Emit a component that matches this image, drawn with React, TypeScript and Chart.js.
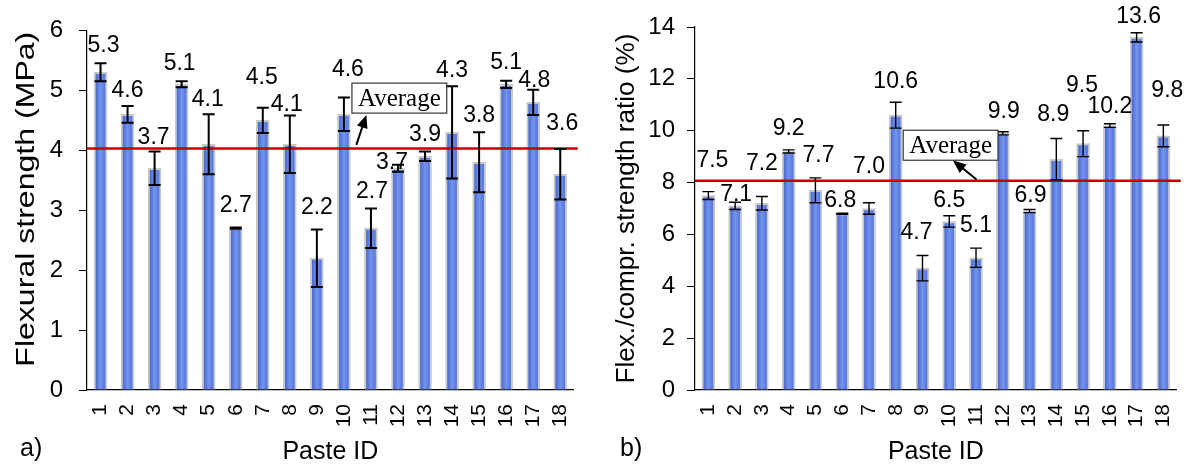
import React, { useEffect, useRef } from 'react';
import { Chart, registerables } from 'chart.js';

Chart.register(...registerables);

// ---- data ----
const PASTE_IDS = ['1', '2', '3', '4', '5', '6', '7', '8', '9', '10', '11', '12', '13', '14', '15', '16', '17', '18'];

// a) flexural strength (MPa) with standard deviations
const FLEX_STRENGTH = [5.3, 4.6, 3.7, 5.1, 4.1, 2.7, 4.5, 4.1, 2.2, 4.6, 2.7, 3.7, 3.9, 4.3, 3.8, 5.1, 4.8, 3.6];
const FLEX_STRENGTH_SD = [0.15, 0.14, 0.28, 0.05, 0.5, 0.01, 0.21, 0.48, 0.48, 0.28, 0.33, 0.06, 0.08, 0.77, 0.5, 0.06, 0.21, 0.42];
const FLEX_STRENGTH_AVG = 4.03;
const FLEX_TICKS = [0, 1, 2, 3, 4, 5, 6];

// b) flexural / compressive strength ratio (%) with standard deviations
const RATIO = [7.5, 7.1, 7.2, 9.2, 7.7, 6.8, 7.0, 10.6, 4.7, 6.5, 5.1, 9.9, 6.9, 8.9, 9.5, 10.2, 13.6, 9.8];
const RATIO_SD = [0.15, 0.14, 0.26, 0.06, 0.48, 0.02, 0.22, 0.5, 0.49, 0.22, 0.37, 0.06, 0.06, 0.8, 0.5, 0.07, 0.18, 0.42];
const RATIO_AVG = 8.07;
const RATIO_TICKS = [0, 2, 4, 6, 8, 10, 12, 14];

// hand-placed data-label nudges (px): lift above the error cap, sideways shift
const FLEX_LABEL_LIFT = [11, 9, 7, 11, 8, 16, 24, 5, 15, 22, 10, -4, 10, 9, 10, 12, 3, 19];
const FLEX_LABEL_DX = [3, 0, -1, -2, -1, 0, -1, -3, 0, 4, 1, -6, 0, 0, 0, 0, 1, 2];
const RATIO_LABEL_LIFT = [25, 1, 27, 15, 16, 6, 30, 14, 16, 9, 16, 14, 8, 17, 39, 11, 10, 28];
const RATIO_LABEL_DX = [4, 1, 0, 0, 3, -2, 0, 0, -6, 0, 0, 1, 1, -3, -1, 0, 2, 4];

const SANS = '"Liberation Sans", Arial, sans-serif';
const SERIF = '"Liberation Serif", "Times New Roman", serif';

type PanelConfig = {
  width: number;
  tag: string;
  yTitle: string;
  yTitleLength: number;
  yTitleShift: number;
  values: number[];
  sd: number[];
  labelLift: number[];
  labelDx: number[];
  average: number;
  ticks: number[];
  yAxisWidth: number;
  rightPad: number;
  tickPad: number;
  errWidth: number;
  // annotation box centre and arrow, in category index / value units
  boxAt: [number, number];
  arrowFrom: [number, number];
  arrowTo: [number, number];
};

const PANELS: PanelConfig[] = [
  {
    width: 600,
    tag: 'a)',
    yTitle: 'Flexural strength (MPa)',
    yTitleLength: 335,
    yTitleShift: -11,
    values: FLEX_STRENGTH,
    sd: FLEX_STRENGTH_SD,
    labelLift: FLEX_LABEL_LIFT,
    labelDx: FLEX_LABEL_DX,
    average: FLEX_STRENGTH_AVG,
    ticks: FLEX_TICKS,
    yAxisWidth: 87,
    rightPad: 20,
    tickPad: 16,
    errWidth: 2,
    boxAt: [11.05, 4.87],
    arrowFrom: [9.46, 4.09],
    arrowTo: [9.83, 4.59],
  },
  {
    width: 603,
    tag: 'b)',
    yTitle: 'Flex./compr. strength ratio (%)',
    yTitleLength: 350,
    yTitleShift: 0,
    values: RATIO,
    sd: RATIO_SD,
    labelLift: RATIO_LABEL_LIFT,
    labelDx: RATIO_LABEL_DX,
    average: RATIO_AVG,
    ticks: RATIO_TICKS,
    yAxisWidth: 95,
    rightPad: 16,
    tickPad: 12,
    errWidth: 1.4,
    boxAt: [9.05, 9.44],
    arrowFrom: [10.02, 8.12],
    arrowTo: [9.14, 8.85],
  },
];

function makeOverlay(cfg: PanelConfig) {
  return {
    id: 'overlay-' + cfg.tag,
    afterDatasetsDraw(chart: any) {
      const { ctx, chartArea } = chart;
      const xs = chart.scales.x;
      const ys = chart.scales.y;
      const meta = chart.getDatasetMeta(0);
      ctx.save();

      // average line
      const ya = ys.getPixelForValue(cfg.average);
      ctx.strokeStyle = '#c80000';
      ctx.lineWidth = 2.5;
      ctx.beginPath();
      ctx.moveTo(chartArea.left, ya);
      ctx.lineTo(chartArea.right + 4, ya);
      ctx.stroke();

      // error bars
      ctx.strokeStyle = '#000';
      ctx.lineWidth = cfg.errWidth;
      const cap = 6;
      meta.data.forEach((bar: any, i: number) => {
        const x = bar.x;
        const top = ys.getPixelForValue(cfg.values[i] + cfg.sd[i]);
        const bot = ys.getPixelForValue(cfg.values[i] - cfg.sd[i]);
        ctx.beginPath();
        ctx.moveTo(x, top);
        ctx.lineTo(x, bot);
        ctx.moveTo(x - cap, top);
        ctx.lineTo(x + cap, top);
        ctx.moveTo(x - cap, bot);
        ctx.lineTo(x + cap, bot);
        ctx.stroke();
      });

      // value labels
      ctx.fillStyle = '#000';
      ctx.font = `23px ${SANS}`;
      ctx.textAlign = 'center';
      ctx.textBaseline = 'alphabetic';
      meta.data.forEach((bar: any, i: number) => {
        const top = ys.getPixelForValue(cfg.values[i] + cfg.sd[i]);
        ctx.fillText(cfg.values[i].toFixed(1), bar.x + cfg.labelDx[i], top - cfg.labelLift[i]);
      });

      // "Average" call-out
      const bx = xs.getPixelForValue(cfg.boxAt[0]);
      const by = ys.getPixelForValue(cfg.boxAt[1]);
      ctx.font = `25px ${SERIF}`;
      const tw = ctx.measureText('Average').width;
      const bw = tw + 12;
      const bh = 30;
      ctx.fillStyle = '#fff';
      ctx.fillRect(bx - bw / 2, by - bh / 2, bw, bh);
      ctx.strokeStyle = '#333';
      ctx.lineWidth = 1.2;
      ctx.strokeRect(bx - bw / 2, by - bh / 2, bw, bh);
      ctx.fillStyle = '#000';
      ctx.textBaseline = 'middle';
      ctx.fillText('Average', bx, by + 1);

      const x0 = xs.getPixelForValue(cfg.arrowFrom[0]);
      const y0 = ys.getPixelForValue(cfg.arrowFrom[1]);
      const x1 = xs.getPixelForValue(cfg.arrowTo[0]);
      const y1 = ys.getPixelForValue(cfg.arrowTo[1]);
      const ang = Math.atan2(y1 - y0, x1 - x0);
      const hl = 13;
      const hw = 5.5;
      ctx.strokeStyle = '#000';
      ctx.lineWidth = 2;
      ctx.beginPath();
      ctx.moveTo(x0, y0);
      ctx.lineTo(x1 - Math.cos(ang) * hl * 0.8, y1 - Math.sin(ang) * hl * 0.8);
      ctx.stroke();
      ctx.beginPath();
      ctx.moveTo(x1, y1);
      ctx.lineTo(x1 - Math.cos(ang) * hl - Math.sin(ang) * hw, y1 - Math.sin(ang) * hl + Math.cos(ang) * hw);
      ctx.lineTo(x1 - Math.cos(ang) * hl + Math.sin(ang) * hw, y1 - Math.sin(ang) * hl - Math.cos(ang) * hw);
      ctx.closePath();
      ctx.fill();

      ctx.restore();
    },
    afterDraw(chart: any) {
      const { ctx, chartArea } = chart;
      ctx.save();
      ctx.fillStyle = '#000';
      ctx.font = `25px ${SANS}`;
      ctx.textAlign = 'center';
      ctx.textBaseline = 'middle';

      // vertical axis title, stretched to its drawn length
      const w = ctx.measureText(cfg.yTitle).width;
      ctx.save();
      ctx.translate(27, (chartArea.top + chartArea.bottom) / 2 + cfg.yTitleShift);
      ctx.rotate(-Math.PI / 2);
      ctx.scale(cfg.yTitleLength / w, 1);
      ctx.fillText(cfg.yTitle, 0, 0);
      ctx.restore();

      // horizontal axis title
      ctx.fillText('Paste ID', (chartArea.left + chartArea.right) / 2, 452);

      // panel tag
      ctx.textAlign = 'left';
      ctx.fillText(cfg.tag, 20, 449);
      ctx.restore();
    },
  };
}

function barFill(c: any) {
  const ch = c.chart;
  const xs = ch && ch.scales && ch.scales.x;
  if (!xs || typeof c.dataIndex !== 'number') return '#5b7de0';
  const x = xs.getPixelForValue(c.dataIndex);
  if (!Number.isFinite(x)) return '#5b7de0';
  const g = ch.ctx.createLinearGradient(x - 5, 0, x + 5, 0);
  g.addColorStop(0, '#4767d0');
  g.addColorStop(0.5, '#7494ee');
  g.addColorStop(1, '#5273da');
  return g;
}

function Panel({ cfg }: { cfg: PanelConfig }) {
  const ref = useRef<HTMLCanvasElement>(null);

  useEffect(() => {
    const canvas = ref.current;
    if (!canvas) return;
    const chart = new Chart(canvas, {
      type: 'bar',
      data: {
        labels: PASTE_IDS,
        datasets: [
          {
            data: cfg.values,
            barThickness: 13,
            borderWidth: 2,
            borderColor: 'rgba(198,198,198,0.95)',
            backgroundColor: barFill,
          },
        ],
      },
      options: {
        responsive: false,
        animation: false,
        layout: { padding: { top: 27, right: cfg.rightPad, left: 0, bottom: 0 } },
        plugins: {
          legend: { display: false },
          tooltip: { enabled: false },
        },
        scales: {
          x: {
            offset: true,
            grid: { display: false, drawTicks: false },
            border: { display: true, color: '#000', width: 1.2 },
            ticks: {
              autoSkip: false,
              minRotation: 90,
              maxRotation: 90,
              padding: 14,
              color: '#000',
              font: { family: SANS, size: 21 },
            },
            afterFit: (s: any) => {
              s.height = 79;
            },
          },
          y: {
            min: cfg.ticks[0],
            max: cfg.ticks[cfg.ticks.length - 1],
            afterBuildTicks: (s: any) => {
              s.ticks = cfg.ticks.map((v) => ({ value: v }));
            },
            grid: {
              display: true,
              drawOnChartArea: false,
              drawTicks: true,
              tickLength: 8,
              tickColor: '#000',
              tickWidth: 1,
            },
            border: { display: true, color: '#000', width: 1.2 },
            ticks: {
              padding: cfg.tickPad,
              color: '#000',
              font: { family: SANS, size: 24 },
            },
            afterFit: (s: any) => {
              s.width = cfg.yAxisWidth;
            },
          },
        },
      },
      plugins: [makeOverlay(cfg)],
    } as any);
    return () => chart.destroy();
  }, [cfg]);

  return (
    <canvas
      ref={ref}
      width={cfg.width}
      height={469}
      style={{ display: 'block', width: cfg.width, height: 469 }}
    />
  );
}

export default function App() {
  return (
    <div
      style={{
        position: 'absolute',
        left: 0,
        top: 0,
        width: 1203,
        height: 469,
        display: 'flex',
        background: '#fff',
      }}
    >
      {PANELS.map((p) => (
        <Panel key={p.tag} cfg={p} />
      ))}
    </div>
  );
}
